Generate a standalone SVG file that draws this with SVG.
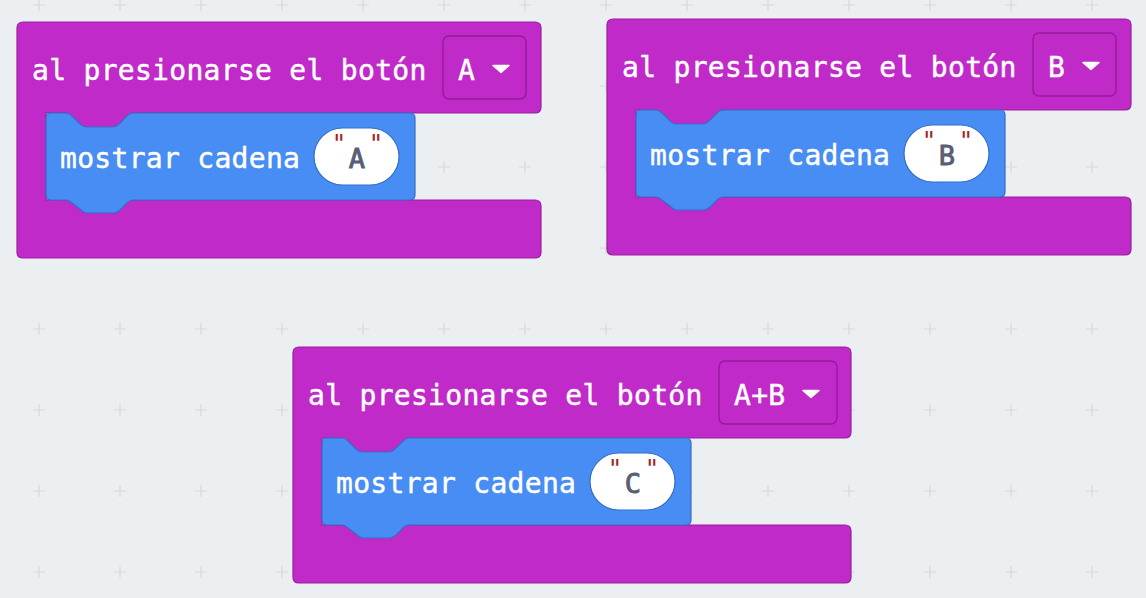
<svg xmlns="http://www.w3.org/2000/svg" width="1146" height="598" viewBox="0 0 1146 598">
<defs>
<style>
.bg{fill:#ECEFF1}
.grid{stroke:#D5D9DD;stroke-width:1.2;fill:none}
.hat{fill:#C02AC8;stroke:#9A1EA0;stroke-width:1.2}
.stmt{fill:#478DF4;stroke:#346EC6;stroke-width:1.2}
.dd{fill:#C02AC8;stroke:#921C98;stroke-width:1.4}
.pill{fill:#FFFFFF;stroke:#346EC6;stroke-width:1.2}
.lbl{font-family:"DejaVu Sans Mono","Liberation Mono",monospace;font-size:28px;letter-spacing:0.3px;fill:#FFFFFF;stroke:#FFFFFF;stroke-width:0.45px}
.val{font-family:"DejaVu Sans Mono","Liberation Mono",monospace;font-size:27px;fill:#575E75;stroke:#575E75;stroke-width:0.9px}
.q{font-family:"DejaVu Sans Mono","Liberation Mono",monospace;font-size:24px;fill:#A3231E}
.tri{fill:#FFFFFF;stroke:#FFFFFF;stroke-width:1.5;stroke-linejoin:round}
</style>
<pattern id="gp" x="39" y="5" width="81" height="81" patternUnits="userSpaceOnUse">
<path class="grid" d="M -6,0 H 6 M 0,-6 V 6 M 75,0 H 87 M 81,-6 V 6 M -6,81 H 6 M 0,75 V 87 M 75,81 H 87 M 81,75 V 87"/>
</pattern>
<path id="stmtShape" d="M 51,113 H 66 C 69,113 70,114 72,116 L 80,124 C 82,126 84,127 87,127 H 112 C 115,127 117,126 119,124 L 127,116 C 129,114 130,113 133,113 H 410 Q 415,113 415,118 V 195 Q 415,200 410,200 H 133 C 130,200 129,201 127,203 L 121,209 C 119,211 117,213 114,213 H 87 C 84,213 82,211 80,209 L 72,203 C 70,201 69,200 66,200 H 51 Q 46,200 46,195 V 118 Q 46,113 51,113 Z"/>
</defs>
<rect class="bg" x="0" y="0" width="1146" height="598"/>
<rect x="0" y="0" width="1146" height="598" fill="url(#gp)"/>

<g id="block-a">
<path class="hat" d="M 23,22 H 535 Q 541,22 541,28 V 107 Q 541,113 535,113 H 133 L 115,128 H 83 L 66,113 H 46 V 200 H 535 Q 541,200 541,206 V 252 Q 541,258 535,258 H 23 Q 17,258 17,252 V 28 Q 17,22 23,22 Z"/>
<text class="lbl" x="32" y="80">al presionarse el botón</text>
<rect class="dd" x="443" y="36" width="83" height="63" rx="6"/>
<text class="lbl" x="458" y="80">A</text>
<path class="tri" d="M 493,65.5 H 509 L 501,72.5 Z"/>
<use href="#stmtShape" class="stmt"/>
<text class="lbl" x="60" y="168">mostrar cadena</text>
<rect class="pill" x="314" y="128" width="85" height="57" rx="28.5"/>
<text class="q" x="339" y="152" text-anchor="middle">"</text>
<text class="q" x="376" y="152" text-anchor="middle">"</text>
<text class="val" x="357" y="168" text-anchor="middle">A</text>
</g>

<g id="block-b" transform="translate(590,-3)">
<path class="hat" d="M 23,22 H 535 Q 541,22 541,28 V 107 Q 541,113 535,113 H 133 L 115,128 H 83 L 66,113 H 46 V 200 H 535 Q 541,200 541,206 V 252 Q 541,258 535,258 H 23 Q 17,258 17,252 V 28 Q 17,22 23,22 Z"/>
<text class="lbl" x="32" y="80">al presionarse el botón</text>
<rect class="dd" x="443" y="36" width="83" height="63" rx="6"/>
<text class="lbl" x="458" y="80">B</text>
<path class="tri" d="M 493,65.5 H 509 L 501,72.5 Z"/>
<use href="#stmtShape" class="stmt"/>
<text class="lbl" x="60" y="168">mostrar cadena</text>
<rect class="pill" x="314" y="128" width="85" height="57" rx="28.5"/>
<text class="q" x="339" y="152" text-anchor="middle">"</text>
<text class="q" x="376" y="152" text-anchor="middle">"</text>
<text class="val" x="357" y="168" text-anchor="middle">B</text>
</g>

<g id="block-ab" transform="translate(276,325)">
<path class="hat" d="M 23,22 H 569 Q 575,22 575,28 V 107 Q 575,113 569,113 H 133 L 115,128 H 83 L 66,113 H 46 V 200 H 569 Q 575,200 575,206 V 252 Q 575,258 569,258 H 23 Q 17,258 17,252 V 28 Q 17,22 23,22 Z"/>
<text class="lbl" x="32" y="80">al presionarse el botón</text>
<rect class="dd" x="443" y="36" width="118" height="63" rx="6"/>
<text class="lbl" x="458" y="80">A+B</text>
<path class="tri" d="M 527,65.5 H 543 L 535,72.5 Z"/>
<use href="#stmtShape" class="stmt"/>
<text class="lbl" x="60" y="168">mostrar cadena</text>
<rect class="pill" x="314" y="128" width="85" height="57" rx="28.5"/>
<text class="q" x="339" y="152" text-anchor="middle">"</text>
<text class="q" x="376" y="152" text-anchor="middle">"</text>
<text class="val" x="357" y="168" text-anchor="middle">C</text>
</g>

<g id="connectors"></g>
</svg>
